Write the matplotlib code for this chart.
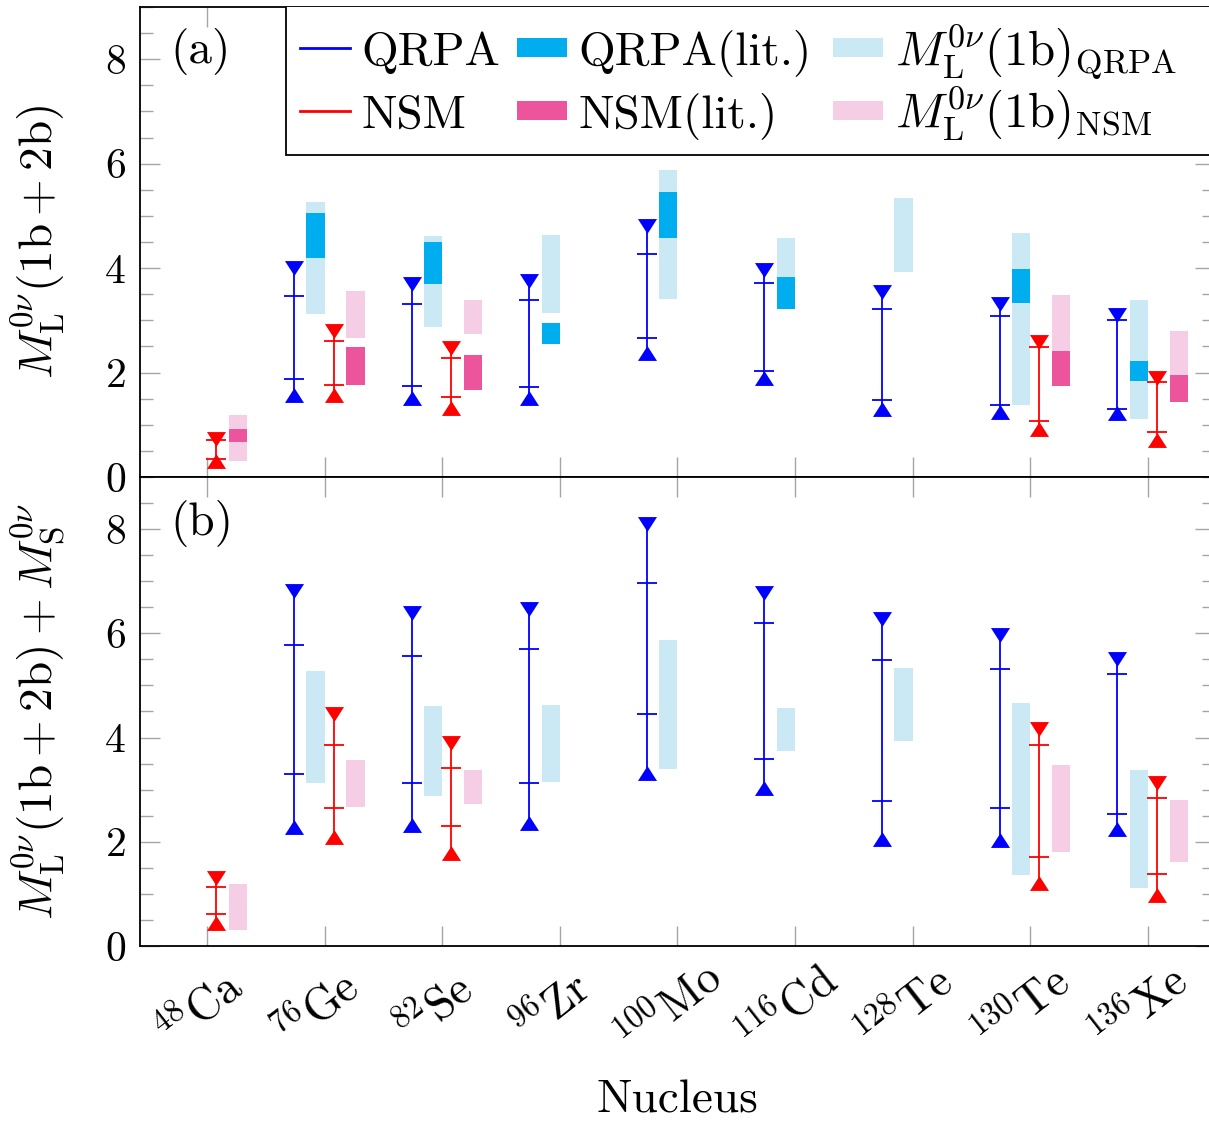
import numpy as np
import matplotlib
matplotlib.use('Agg')
import matplotlib.pyplot as plt
import matplotlib.transforms as mtransforms
from matplotlib.patches import Rectangle
from matplotlib.ticker import MultipleLocator

plt.rcParams['font.family'] = 'serif'
plt.rcParams['font.serif'] = ['cmr10']
plt.rcParams['mathtext.fontset'] = 'cm'
plt.rcParams['axes.unicode_minus'] = False
plt.rcParams['axes.formatter.use_mathtext'] = True

nan = np.nan

# nuclei
mass = ['48', '76', '82', '96', '100', '116', '128', '130', '136']
elem = ['Ca', 'Ge', 'Se', 'Zr', 'Mo', 'Cd', 'Te', 'Te', 'Xe']

# panel (a): M_L(1b+2b) ranges  (max, upper cap, lower cap, min)
qrpa_a_max = [nan, 4.01, 3.70, 3.76, 4.80, 3.97, 3.55, 3.32, 3.11]
qrpa_a_hi = [nan, 3.46, 3.31, 3.38, 4.27, 3.72, 3.21, 3.09, 3.01]
qrpa_a_lo = [nan, 1.88, 1.74, 1.72, 2.66, 2.03, 1.48, 1.38, 1.30]
qrpa_a_min = [nan, 1.57, 1.52, 1.51, 2.37, 1.89, 1.30, 1.25, 1.23]

nsm_a_max = [0.73, 2.80, 2.47, nan, nan, nan, nan, 2.58, 1.89]
nsm_a_hi = [0.70, 2.60, 2.28, nan, nan, nan, nan, 2.49, 1.82]
nsm_a_lo = [0.35, 1.77, 1.54, nan, nan, nan, nan, 1.07, 0.86]
nsm_a_min = [0.31, 1.57, 1.33, nan, nan, nan, nan, 0.92, 0.71]

# panel (b): M_L(1b+2b) + M_S
qrpa_b_max = [nan, 6.81, 6.38, 6.46, 8.10, 6.77, 6.27, 5.96, 5.50]
qrpa_b_hi = [nan, 5.77, 5.57, 5.69, 6.97, 6.20, 5.49, 5.31, 5.21]
qrpa_b_lo = [nan, 3.30, 3.13, 3.12, 4.45, 3.58, 2.79, 2.65, 2.53]
qrpa_b_min = [nan, 2.28, 2.33, 2.35, 3.32, 3.03, 2.05, 2.04, 2.25]

nsm_b_max = [1.30, 4.45, 3.89, nan, nan, nan, nan, 4.16, 3.12]
nsm_b_hi = [1.13, 3.85, 3.41, nan, nan, nan, nan, 3.86, 2.84]
nsm_b_lo = [0.61, 2.64, 2.31, nan, nan, nan, nan, 1.71, 1.39]
nsm_b_min = [0.44, 2.10, 1.78, nan, nan, nan, nan, 1.21, 0.97]

# literature values (lo, hi)
qrpa_lit_lo = [nan, 4.20, 3.70, 2.55, 4.58, 3.21, nan, 3.33, 1.83]
qrpa_lit_hi = [nan, 5.06, 4.50, 2.95, 5.46, 3.83, nan, 3.99, 2.22]
nsm_lit_lo = [0.67, 1.77, 1.66, nan, nan, nan, nan, 1.75, 1.43]
nsm_lit_hi = [0.91, 2.49, 2.34, nan, nan, nan, nan, 2.41, 1.96]

# M_L(1b) bands (lo, hi)
qrpa_1b_lo = [nan, 3.13, 2.87, 3.14, 3.40, 3.75, 3.93, 1.37, 1.11]
qrpa_1b_hi = [nan, 5.27, 4.61, 4.63, 5.87, 4.57, 5.34, 4.67, 3.38]
nsm_1b_lo = [0.31, 2.66, 2.73, nan, nan, nan, nan, 1.80, 1.62]
nsm_1b_hi = [1.18, 3.57, 3.38, nan, nan, nan, nan, 3.48, 2.80]

c_qrpa = '#0000ff'
c_nsm = '#ff0000'
c_qrpa_lit = '#00aeef'
c_nsm_lit = '#ec559c'
c_qrpa_1b = '#cbe9f5'
c_nsm_1b = '#f5cde4'

tri_down = [(-1, 0.78), (1, 0.78), (0, -0.78), (-1, 0.78)]
tri_up = [(-1, -0.78), (1, -0.78), (0, 0.78), (-1, -0.78)]

x = np.arange(1, len(mass) + 1)
box_w = 0.155
fs = 34


def draw_range(ax, xs, vmax, hi, lo, vmin, color):
    vmax, hi, lo, vmin = [np.asarray(v, float) for v in (vmax, hi, lo, vmin)]
    ok = ~np.isnan(vmax)
    ax.vlines(xs[ok], vmin[ok], vmax[ok], color=color, lw=1.3, zorder=3)
    for v in (hi, lo):
        ax.plot(xs[ok], v[ok], ls='none', marker='_', ms=13.7, mew=1.3,
                color=color, zorder=3)
    ax.plot(xs[ok], vmax[ok], ls='none', marker=tri_down, ms=13.7, mew=0,
            color=color, zorder=4)
    ax.plot(xs[ok], vmin[ok], ls='none', marker=tri_up, ms=13.7, mew=0,
            color=color, zorder=4)


def draw_boxes(ax, xs, lo, hi, color, z):
    lo, hi = np.asarray(lo, float), np.asarray(hi, float)
    ok = ~np.isnan(lo)
    ax.bar(xs[ok], hi[ok] - lo[ok], bottom=lo[ok], width=box_w,
           color=color, lw=0, zorder=z)


fig = plt.figure(figsize=(12.09, 11.22), dpi=100)
axa = fig.add_axes([0.1158, 0.5749, 0.889, 0.4189])
axb = fig.add_axes([0.1158, 0.1569, 0.889, 0.4180], sharex=axa)

x_qrpa_bar, x_qrpa_box = x - 0.26, x - 0.0775
x_nsm_bar, x_nsm_box = x + 0.077, x + 0.2625

# (a)
draw_boxes(axa, x_qrpa_box, qrpa_1b_lo, qrpa_1b_hi, c_qrpa_1b, 1)
draw_boxes(axa, x_qrpa_box, qrpa_lit_lo, qrpa_lit_hi, c_qrpa_lit, 2)
draw_boxes(axa, x_nsm_box, nsm_1b_lo, nsm_1b_hi, c_nsm_1b, 1)
draw_boxes(axa, x_nsm_box, nsm_lit_lo, nsm_lit_hi, c_nsm_lit, 2)
draw_range(axa, x_qrpa_bar, qrpa_a_max, qrpa_a_hi, qrpa_a_lo, qrpa_a_min, c_qrpa)
draw_range(axa, x_nsm_bar, nsm_a_max, nsm_a_hi, nsm_a_lo, nsm_a_min, c_nsm)

# (b)
draw_boxes(axb, x_qrpa_box, qrpa_1b_lo, qrpa_1b_hi, c_qrpa_1b, 1)
draw_boxes(axb, x_nsm_box, nsm_1b_lo, nsm_1b_hi, c_nsm_1b, 1)
draw_range(axb, x_qrpa_bar, qrpa_b_max, qrpa_b_hi, qrpa_b_lo, qrpa_b_min, c_qrpa)
draw_range(axb, x_nsm_bar, nsm_b_max, nsm_b_hi, nsm_b_lo, nsm_b_min, c_nsm)

for ax in (axa, axb):
    ax.set_ylim(0, 9)
    ax.set_xlim(0.43, 9.57)
    ax.yaxis.set_major_locator(MultipleLocator(2))
    ax.yaxis.set_minor_locator(MultipleLocator(0.5))
    ax.tick_params(which='both', direction='in', top=True, right=True,
                   color='#a5a5a5', width=1.0, labelsize=30)
    ax.tick_params(which='major', length=14.4, pad=10)
    ax.tick_params(which='minor', length=9.4)
    for s in ax.spines.values():
        s.set_linewidth(1.3)

axa.set_xticks(x)
axa.tick_params(axis='x', labelbottom=False)
axb.set_xticklabels([r'$^{%s}\mathrm{%s}$' % (m, e) for m, e in zip(mass, elem)],
                    rotation=38, rotation_mode='anchor', ha='center', va='center',
                    fontsize=33)
axb.tick_params(axis='x', pad=46)

axa.set_ylabel(r'$M_{\mathrm{L}}^{0\nu}(1\mathrm{b}+2\mathrm{b})$', fontsize=fs)
axb.set_ylabel(r'$M_{\mathrm{L}}^{0\nu}(1\mathrm{b}+2\mathrm{b})+M_{\mathrm{S}}^{0\nu}$',
               fontsize=fs)
axa.yaxis.set_label_coords(-0.068, 0.5)
axb.yaxis.set_label_coords(-0.068, 0.5)
axb.set_xlabel('Nucleus', fontsize=fs)
axb.xaxis.set_label_coords(0.5, -0.285)

axa.text(0.028, 0.955, '(a)', transform=axa.transAxes, ha='left', va='top', fontsize=fs)
axb.text(0.028, 0.951, '(b)', transform=axb.transAxes, ha='left', va='top', fontsize=fs)

# legend, laid out in rows like the pgfplots one (axes fraction of panel a)
leg_rows = [0.877, 0.743]               # text baselines
leg_cols = [0.149, 0.351, 0.645]        # handle left edges
handle_w, text_gap = 0.046, 0.011
leg_entries = [
    (0, 0, 'line', c_qrpa, 'QRPA'),
    (0, 1, 'line', c_nsm, 'NSM'),
    (1, 0, 'box', c_qrpa_lit, 'QRPA(lit.)'),
    (1, 1, 'box', c_nsm_lit, 'NSM(lit.)'),
    (2, 0, 'box', c_qrpa_1b, r'$M_{\mathrm{L}}^{0\nu}(1\mathrm{b})_{\mathrm{QRPA}}$'),
    (2, 1, 'box', c_nsm_1b, r'$M_{\mathrm{L}}^{0\nu}(1\mathrm{b})_{\mathrm{NSM}}$'),
]
axa.add_patch(Rectangle((0.1358, 0.685), 0.9, 0.4, transform=axa.transAxes,
                        facecolor='white', edgecolor='black', lw=1.3, zorder=5,
                        clip_on=True))
for col, row, kind, color, label in leg_entries:
    x0 = leg_cols[col]
    yc = leg_rows[row] + 0.036
    if kind == 'line':
        axa.plot([x0, x0 + handle_w], [yc, yc], color=color, lw=2,
                 transform=axa.transAxes, zorder=6)
    else:
        axa.add_patch(Rectangle((x0, yc - 0.02), handle_w, 0.04, transform=axa.transAxes,
                                facecolor=color, edgecolor='none', zorder=6))
    axa.text(x0 + handle_w + text_gap, leg_rows[row], label, transform=axa.transAxes,
             ha='left', va='baseline', fontsize=fs + (1 if col == 2 else 0), zorder=7)

off = mtransforms.ScaledTranslation(-8 / 100, 0, fig.dpi_scale_trans)
for lbl in axb.get_xticklabels():
    lbl.set_transform(lbl.get_transform() + off)

fig.savefig('out.png', dpi=100)
